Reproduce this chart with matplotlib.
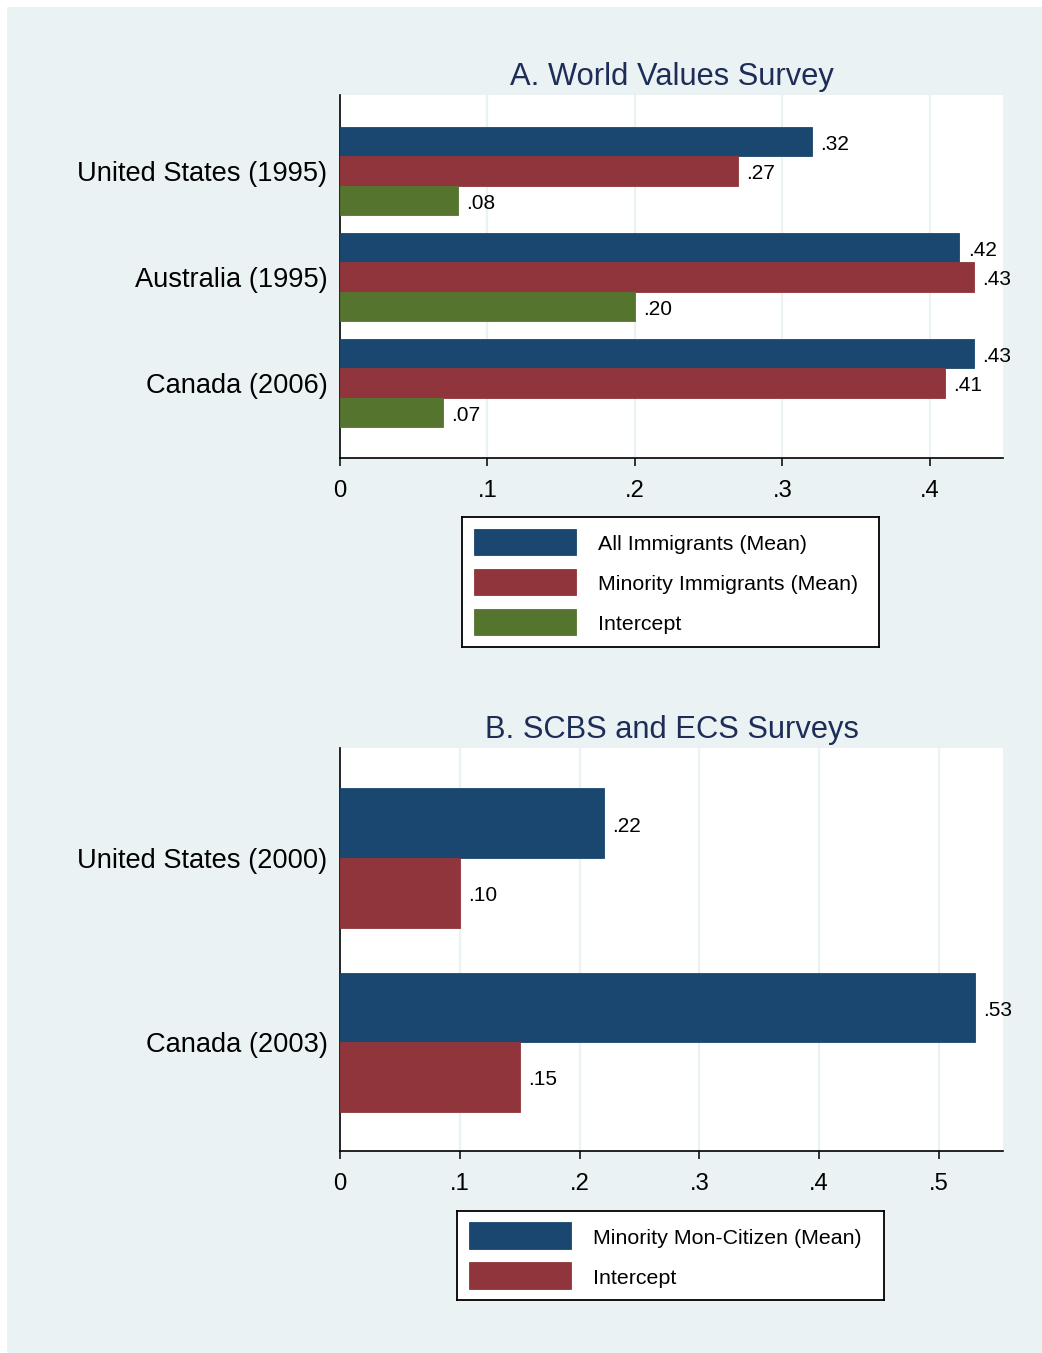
import matplotlib
matplotlib.use("Agg")
import matplotlib.pyplot as plt
from matplotlib.patches import Rectangle
import numpy as np

plt.rcParams['font.family'] = ['Liberation Sans', 'DejaVu Sans']

# ---------------- data ----------------
a_categories = ["United States (1995)", "Australia (1995)", "Canada (2006)"]
a_series = ["All Immigrants (Mean)", "Minority Immigrants (Mean)", "Intercept"]
a_all_imm = [0.32, 0.42, 0.43]
a_min_imm = [0.27, 0.43, 0.41]
a_intercept = [0.08, 0.20, 0.07]
a_xticks = [0, 0.1, 0.2, 0.3, 0.4]
a_xticklabels = ["0", ".1", ".2", ".3", ".4"]
a_title = "A. World Values Survey"

b_categories = ["United States (2000)", "Canada (2003)"]
b_series = ["Minority Mon-Citizen (Mean)", "Intercept"]
b_min_noncit = [0.22, 0.53]
b_intercept = [0.10, 0.15]
b_xticks = [0, 0.1, 0.2, 0.3, 0.4, 0.5]
b_xticklabels = ["0", ".1", ".2", ".3", ".4", ".5"]
b_title = "B. SCBS and ECS Surveys"

# ---------------- style ----------------
BLUE = "#1A476F"
RED = "#90353B"
GREEN = "#55752F"
BG = "#EAF2F3"
TITLE_C = "#1E2D58"
W, H = 1042, 1353

fig = plt.figure(figsize=(W / 100, H / 100), dpi=100, facecolor="white")
fig.patches.append(Rectangle((7 / W, 0), 1 - 7 / W, 1 - 7 / H, transform=fig.transFigure,
                             facecolor=BG, edgecolor="none", zorder=-10))


def px_axes(x0, y0, x1, y1):
    return fig.add_axes([x0 / W, 1 - y1 / H, (x1 - x0) / W, (y1 - y0) / H])


def fmt(v):
    s = f"{v:.2f}"
    return s[1:] if s.startswith("0") else s


def panel(ax, cats, series_vals, colors, bar_h, ylim, xlim, xticks, xticklabels, title):
    n = len(series_vals)
    y = np.arange(len(cats))
    for i, (vals, c) in enumerate(zip(series_vals, colors)):
        pos = y + (i - (n - 1) / 2) * bar_h
        bars = ax.barh(pos, vals, height=bar_h, color=c, edgecolor=c, linewidth=0.6, zorder=3)
        for b, v in zip(bars, vals):
            ax.annotate(fmt(v), (v, b.get_y() + b.get_height() / 2), xytext=(6, -2),
                        textcoords="offset points", va="center", ha="left",
                        fontsize=15, color="black", zorder=4)
    ax.set_ylim(*ylim)
    ax.set_xlim(*xlim)
    ax.set_yticks(y)
    ax.set_yticklabels(cats, fontsize=19.6)
    ax.tick_params(axis="y", length=0, pad=9)
    ax.set_xticks(xticks)
    ax.set_xticklabels(xticklabels, fontsize=17.2)
    ax.tick_params(axis="x", length=6, width=1.1, pad=10, direction="out")
    for t in xticks[1:]:
        ax.axvline(t, color=BG, lw=1.6, zorder=1)
    ax.set_facecolor("white")
    for s in ["top", "right"]:
        ax.spines[s].set_visible(False)
    for s in ["left", "bottom"]:
        ax.spines[s].set_linewidth(1.2)
        ax.spines[s].set_color("black")
    ax.set_title(title, fontsize=22.2, color=TITLE_C, pad=7)


def legend_box(x0, y0, x1, y1, labels, colors, patch_x, row_y, patch_h, text_x):
    lax = px_axes(x0, y0, x1, y1)
    lax.set_xlim(0, x1 - x0)
    lax.set_ylim(y1 - y0, 0)
    lax.set_xticks([])
    lax.set_yticks([])
    lax.set_facecolor("white")
    for s in lax.spines.values():
        s.set_linewidth(1.3)
        s.set_color("black")
    for lab, c, ry in zip(labels, colors, row_y):
        lax.add_patch(Rectangle((patch_x[0], ry - patch_h / 2), patch_x[1] - patch_x[0], patch_h,
                                facecolor=c, edgecolor=c, lw=0.6))
        lax.text(text_x, ry + 2.5, lab, va="center", ha="left", fontsize=15.4, color="black")


# ---- Panel A ----
axA = px_axes(340, 95, 1003, 458)
panel(axA, a_categories, [a_all_imm, a_min_imm, a_intercept], [BLUE, RED, GREEN],
      0.2767, (2.708, -0.717), (0, 0.4495), a_xticks, a_xticklabels, a_title)
legend_box(462, 517, 879, 647, a_series, [BLUE, RED, GREEN],
           (12, 114), [25, 65, 105], 26, 136)

# ---- Panel B ----
axB = px_axes(340, 748, 1003, 1151)
panel(axB, b_categories, [b_min_noncit, b_intercept], [BLUE, RED],
      0.378, (1.592, -0.598), (0, 0.5534), b_xticks, b_xticklabels, b_title)
legend_box(457, 1211, 884, 1300, b_series, [BLUE, RED],
           (12, 114), [24.5, 64.5], 27, 136)

fig.savefig("out.png", dpi=100, facecolor=fig.get_facecolor())
